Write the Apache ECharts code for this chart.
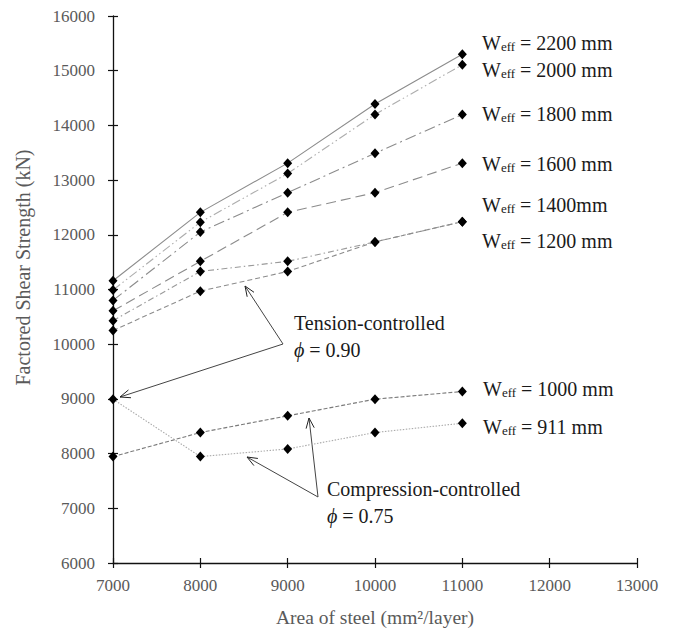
<!DOCTYPE html>
<html>
<head>
<meta charset="utf-8">
<style>
  html, body { margin: 0; padding: 0; background: #fff; }
  #chart { width: 678px; height: 634px; }
</style>
<script src="https://cdn.jsdelivr.net/npm/echarts@6/dist/echarts.min.js"></script>
</head>
<body>
<div id="chart"></div>
<script>
(function() {
  'use strict';

  // ========== Data ==========
  var steelArea = [7000, 8000, 9000, 10000, 11000];

  var w2200 = [11160, 12410, 13310, 14390, 15300];
  var w2000 = [10990, 12230, 13120, 14200, 15110];
  var w1800 = [10800, 12050, 12770, 13490, 14200];
  var w1600 = [10610, 11515, 12410, 12770, 13310];
  var w1400 = [10430, 11330, 11515, 11870, 12240];
  var w1200 = [10250, 10970, 11330, 11870, 12240];
  var w1000 = [7945, 8385, 8690, 8995, 9135];
  var w911 = [8995, 7945, 8085, 8385, 8555];

  var xTicks = { min: 7000, max: 13000, interval: 1000 };
  var yTicks = { min: 6000, max: 16000, interval: 1000 };

  var serif = 'Liberation Serif';
  var grey = '#5a5a5a';
  var ink = '#1a1a1a';

  var lines = [
    { name: '2200', data: w2200, color: '#8c8c8c', dash: 'solid' },
    { name: '2000', data: w2000, color: '#adadad', dash: [9, 3, 1.5, 3, 1.5, 3] },
    { name: '1800', data: w1800, color: '#8c8c8c', dash: [11, 4, 2, 4] },
    { name: '1600', data: w1600, color: '#8c8c8c', dash: [10, 5] },
    { name: '1400', data: w1400, color: '#9a9a9a', dash: [6, 3, 1.5, 3] },
    { name: '1200', data: w1200, color: '#8c8c8c', dash: [5, 3] },
    { name: '1000', data: w1000, color: '#7a7a7a', dash: [4, 2] },
    { name: '911', data: w911, color: '#ababab', dash: [1.5, 1.5] }
  ];

  // label text, left x, centre y (annotation positions, px)
  var weffLabels = [
    ['2200 mm', 482, 42],
    ['2000 mm', 482, 69],
    ['1800 mm', 482, 113],
    ['1600 mm', 482, 163],
    ['1400mm', 482, 204],
    ['1200 mm', 482, 240],
    ['1000 mm', 483, 388],
    ['911 mm', 483, 426]
  ];

  function arrow(from, to) {
    var ang = Math.atan2(to[1] - from[1], to[0] - from[0]);
    var len = 11, spread = 0.38;
    var a = [to[0] - len * Math.cos(ang - spread), to[1] - len * Math.sin(ang - spread)];
    var b = [to[0] - len * Math.cos(ang + spread), to[1] - len * Math.sin(ang + spread)];
    return [
      { type: 'polyline', shape: { points: [from, to] }, style: { stroke: '#444', lineWidth: 1, fill: null }, silent: true },
      { type: 'polyline', shape: { points: [a, to, b] }, style: { stroke: '#222', lineWidth: 1, fill: null }, silent: true }
    ];
  }

  function axisBase(t, showLabel, inside) {
    return {
      type: 'value',
      min: t.min,
      max: t.max,
      interval: t.interval,
      splitLine: { show: false },
      axisLine: { show: showLabel, onZero: false, lineStyle: { color: '#111', width: 1.3 } },
      axisTick: { show: true, inside: inside, length: 5, lineStyle: { color: '#111', width: 1.2 } },
      axisLabel: {
        show: showLabel, color: grey, fontFamily: serif, fontSize: 17,
        formatter: function(v) { return String(v); }
      }
    };
  }

  var x0 = axisBase(xTicks, true, false);
  x0.axisLabel.margin = 14;
  x0.name = 'Area of steel (mm²/layer)';
  x0.nameLocation = 'middle';
  x0.nameGap = 44;
  x0.nameTextStyle = { color: grey, fontFamily: serif, fontSize: 19.5 };
  var x1 = axisBase(xTicks, false, true);
  x1.position = 'bottom';

  var y0 = axisBase(yTicks, true, false);
  y0.axisLabel.margin = 18;
  y0.name = 'Factored Shear Strength (kN)';
  y0.nameLocation = 'middle';
  y0.nameRotate = 90;
  y0.nameGap = 80;
  y0.nameTextStyle = { color: grey, fontFamily: serif, fontSize: 20, padding: [0, 0, 0, 44] };
  var y1 = axisBase(yTicks, false, true);
  y1.position = 'left';

  var graphics = [];
  weffLabels.forEach(function(l) {
    graphics.push({
      type: 'text',
      x: l[1],
      y: l[2],
      silent: true,
      style: {
        text: '{w|W}{s|eff}{w| = ' + l[0] + '}',
        verticalAlign: 'middle',
        fill: ink,
        rich: {
          w: { fontFamily: serif, fontSize: 20, fill: ink, verticalAlign: 'bottom', lineHeight: 22 },
          s: { fontFamily: serif, fontSize: 13, fill: ink, verticalAlign: 'bottom', lineHeight: 14 }
        }
      }
    });
  });

  function note(line1, line2, x, y) {
    return {
      type: 'text',
      x: x,
      y: y,
      silent: true,
      style: {
        text: '{t|' + line1 + '}\n{p|ϕ}{t| = ' + line2 + '}',
        fill: ink,
        rich: {
          t: { fontFamily: serif, fontSize: 20, fill: ink, lineHeight: 27 },
          p: { fontFamily: serif, fontSize: 20, fontStyle: 'italic', fill: ink, lineHeight: 27 }
        }
      }
    };
  }

  graphics.push(note('Tension-controlled', '0.90', 294, 309));
  graphics.push(note('Compression-controlled', '0.75', 327, 475));
  graphics = graphics.concat(arrow([283, 344], [245, 286]));
  graphics = graphics.concat(arrow([283, 344], [120, 397]));
  graphics = graphics.concat(arrow([318, 497], [247, 457]));
  graphics = graphics.concat(arrow([318, 497], [309, 418]));

  var chart = echarts.init(document.getElementById('chart'), null, { renderer: 'svg' });
  chart.setOption({
    animation: false,
    backgroundColor: '#fff',
    grid: { left: 113, right: 41, top: 16, bottom: 71, outerBoundsMode: 'none' },
    xAxis: [x0, x1],
    yAxis: [y0, y1],
    series: lines.map(function(s) {
      return {
        name: s.name,
        type: 'line',
        data: steelArea.map(function(x, i) { return [x, s.data[i]]; }),
        symbol: 'diamond',
        symbolSize: [9, 10],
        showSymbol: true,
        z: 3,
        lineStyle: { color: s.color, width: 1.1, type: s.dash },
        itemStyle: { color: '#000' }
      };
    }),
    graphic: graphics
  });
  window.addEventListener('resize', function() { chart.resize(); });
})();
</script>
</body>
</html>
